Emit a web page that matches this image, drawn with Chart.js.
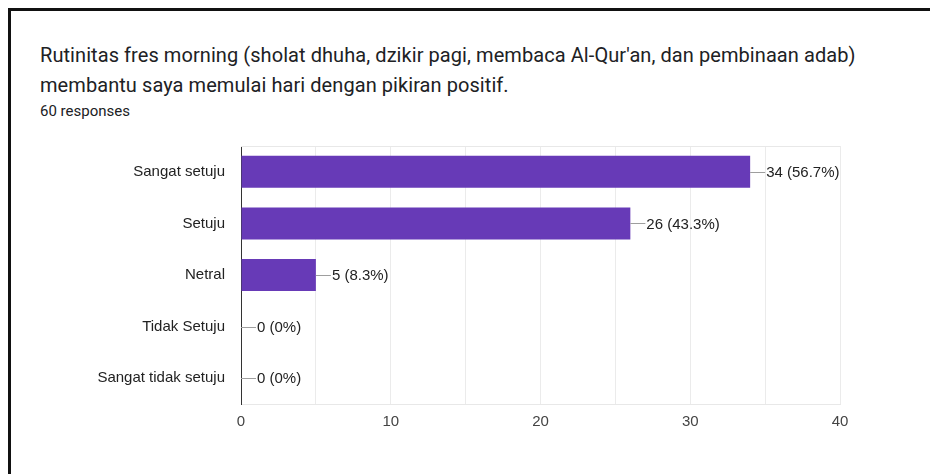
<!DOCTYPE html>
<html>
<head>
<meta charset="utf-8">
<script src="https://cdn.jsdelivr.net/npm/chart.js@4/dist/chart.umd.min.js"></script>
<style>
  html, body { margin: 0; padding: 0; background: #fff; }
  body { width: 930px; height: 474px; position: relative; overflow: hidden; }
  #frame { position: absolute; left: 8px; top: 8px; width: 940px; height: 480px;
           border-left: 3px solid #111; border-top: 3px solid #111; box-sizing: border-box; }
  #title { position: absolute; left: 40px; top: 40px; font-family: Roboto, sans-serif;
           font-size: 20px; line-height: 30px; letter-spacing: 0.07px; color: #202124; white-space: nowrap; }
  #sub { position: absolute; left: 40px; top: 102px; font-family: Roboto, sans-serif;
         font-size: 15px; line-height: 18px; color: #202124; }
  #wrap { position: absolute; left: 0; top: 0; width: 930px; height: 474px; }
</style>
</head>
<body>
<div id="frame"></div>
<div id="title">Rutinitas fres morning (sholat dhuha, dzikir pagi, membaca Al-Qur'an, dan pembinaan adab)<br>membantu saya memulai hari dengan pikiran positif.</div>
<div id="sub">60 responses</div>
<div id="wrap"><canvas id="c" width="930" height="474"></canvas></div>
<script>
const categories = ["Sangat setuju", "Setuju", "Netral", "Tidak Setuju", "Sangat tidak setuju"];
const counts = [34, 26, 5, 0, 0];
const percentLabels = ["56.7%", "43.3%", "8.3%", "0%", "0%"];
const xTicks = [0, 10, 20, 30, 40];

const valueLabels = {
  id: 'valueLabels',
  afterDatasetsDraw(chart) {
    const ctx = chart.ctx;
    const meta = chart.getDatasetMeta(0);
    ctx.save();
    ctx.font = '15px "Liberation Sans", Arial, sans-serif';
    ctx.textBaseline = 'middle';
    meta.data.forEach((bar, i) => {
      const x = bar.x, y = bar.y;
      ctx.strokeStyle = '#9e9e9e';
      ctx.lineWidth = 1;
      ctx.beginPath();
      ctx.moveTo(x, Math.round(y) + 0.5);
      ctx.lineTo(x + 15, Math.round(y) + 0.5);
      ctx.stroke();
      ctx.fillStyle = '#222';
      ctx.fillText(counts[i] + ' (' + percentLabels[i] + ')', x + 16, y + 1);
    });
    ctx.restore();
  }
};

const areaTop = {
  id: 'areaTop',
  beforeDatasetsDraw(chart) {
    const a = chart.chartArea, ctx = chart.ctx;
    ctx.save();
    ctx.strokeStyle = '#e8e8e8';
    ctx.lineWidth = 1;
    ctx.beginPath();
    ctx.moveTo(a.left, a.top + 0.5);
    ctx.lineTo(a.right, a.top + 0.5);
    ctx.stroke();
    ctx.restore();
  }
};

new Chart(document.getElementById('c'), {
  type: 'bar',
  data: {
    labels: categories,
    datasets: [{
      data: counts,
      backgroundColor: '#673ab7',
      borderWidth: 0,
      categoryPercentage: 1,
      barPercentage: 0.62
    }]
  },
  options: {
    indexAxis: 'y',
    responsive: false,
    animation: false,
    events: [],
    layout: { padding: { left: 0, right: 90, top: 146, bottom: 40 } },
    plugins: { legend: { display: false }, tooltip: { enabled: false } },
    scales: {
      x: {
        min: 0, max: 40,
        afterBuildTicks(s) { s.ticks = []; for (let v = 0; v <= 40; v += 5) s.ticks.push({ value: v }); },
        afterFit(s) { s.height = 30; },
        grid: { color: '#ebebeb', drawTicks: false },
        border: { color: '#e8e8e8' },
        ticks: {
          padding: 9,
          color: '#444',
          font: { family: '"Liberation Sans", Arial, sans-serif', size: 15 },
          callback: (v) => xTicks.includes(v) ? String(v) : ''
        }
      },
      y: {
        afterFit(s) { s.width = 241; },
        grid: { display: false, drawTicks: false },
        border: { color: '#333', width: 1 },
        ticks: {
          padding: 16,
          color: '#222',
          font: { family: '"Liberation Sans", Arial, sans-serif', size: 15 }
        }
      }
    }
  },
  plugins: [areaTop, valueLabels]
});
</script>
</body>
</html>
